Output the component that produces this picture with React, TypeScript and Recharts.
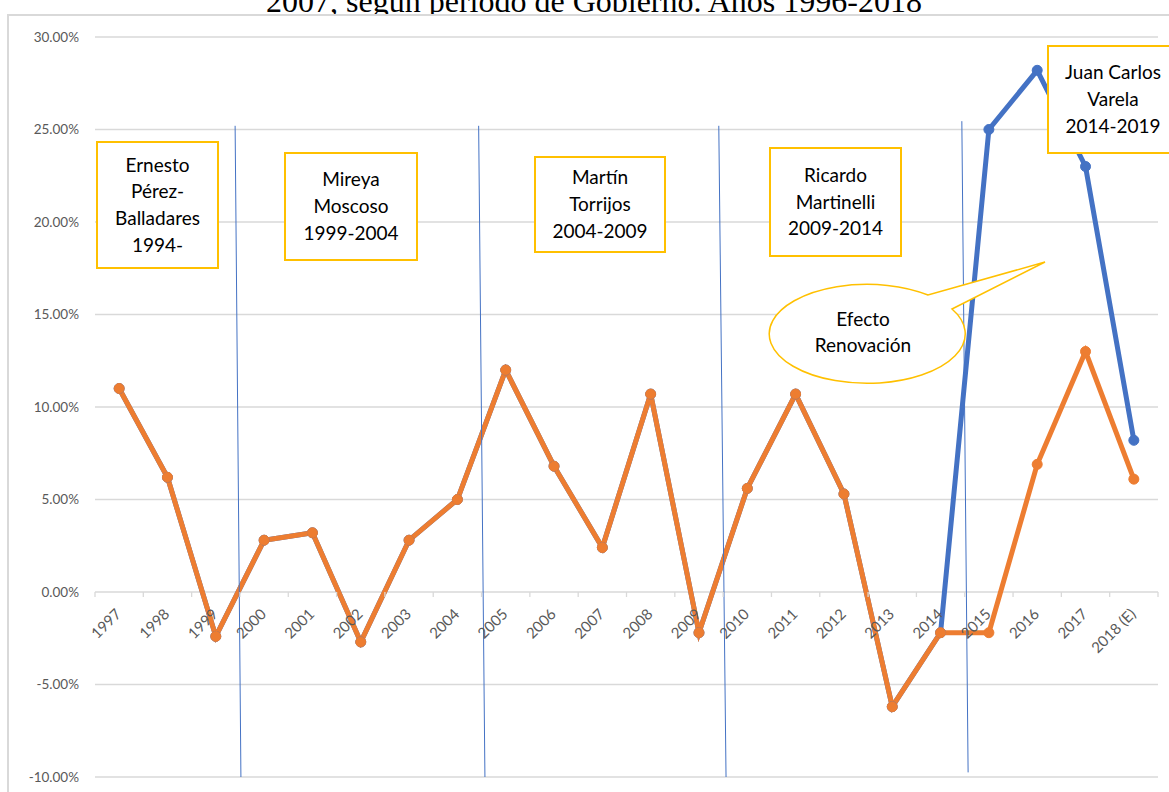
import { CartesianGrid, Line, LineChart, ReferenceDot, ReferenceLine, XAxis, YAxis } from "recharts";

// Tasa de crecimiento (%) por año
const years = [
  "1997", "1998", "1999", "2000", "2001", "2002", "2003", "2004", "2005", "2006", "2007",
  "2008", "2009", "2010", "2011", "2012", "2013", "2014", "2015", "2016", "2017", "2018 (E)",
];
const crecimiento = [
  11.0, 6.2, -2.4, 2.8, 3.2, -2.7, 2.8, 5.0, 12.0, 6.8, 2.4,
  10.7, -2.2, 5.6, 10.7, 5.3, -6.2, -2.2, -2.2, 6.9, 13.0, 6.1,
];
const conRenovacion = [
  11.0, 6.2, -2.4, 2.8, 3.2, -2.7, 2.8, 5.0, 12.0, 6.8, 2.4,
  10.7, -2.2, 5.6, 10.7, 5.3, -6.2, -2.2, 25.0, 28.2, 23.0, 8.2,
];
const yTicks = [-10, -5, 0, 5, 10, 15, 20, 25, 30];

const title = "2007, según período de Gobierno. Años 1996-2018";
const periodLabels = [
  ["Ernesto", "Pérez-", "Balladares", "1994-"],
  ["Mireya", "Moscoso", "1999-2004"],
  ["Martín", "Torrijos", "2004-2009"],
  ["Ricardo", "Martinelli", "2009-2014"],
  ["Juan Carlos", "Varela", "2014-2019"],
];
const calloutLines = ["Efecto", "Renovación"];

// separadores de período (en unidades del gráfico)
const separators = [
  { x1: 2.4, y1: 25.2, x2: 2.52, y2: -10 },
  { x1: 7.44, y1: 25.2, x2: 7.57, y2: -10 },
  { x1: 12.41, y1: 25.2, x2: 12.56, y2: -10 },
  { x1: 17.44, y1: 25.45, x2: 17.57, y2: -9.75 },
];

// cajas de texto (px)
const boxLayout = [
  { left: 96, top: 141, width: 123, height: 128 },
  { left: 284, top: 152, width: 134, height: 109 },
  { left: 534, top: 156, width: 132, height: 97 },
  { left: 769, top: 147, width: 133, height: 110 },
  { left: 1047, top: 45, width: 132, height: 109 },
];

const FONT = "Lato, 'Open Sans', sans-serif";
const GOLD = "#FFC000";
const GRAY = "#595959";

const data = years.map((year, i) => ({
  idx: i,
  year,
  crecimiento: crecimiento[i],
  conRenovacion: conRenovacion[i],
}));

function YearLabel(props: any) {
  const x = props.cx + 3;
  const y = props.cy + 23;
  return (
    <text
      x={x}
      y={y}
      textAnchor="end"
      transform={`rotate(-45, ${x}, ${y})`}
      fill={GRAY}
      fontSize={15}
      fontFamily={FONT}
    >
      {props.value}
    </text>
  );
}

function TickMark(props: any) {
  return <line x1={props.cx} y1={props.cy} x2={props.cx} y2={props.cy + 5} stroke="#d9d9d9" strokeWidth={1.3} />;
}

export default function App() {
  return (
    <div style={{ position: "absolute", left: 0, top: 0, width: 1169, height: 792, overflow: "hidden", background: "#fff" }}>
      <svg width={1169} height={20} style={{ position: "absolute", left: 0, top: 0 }}>
        <text x={594} y={12} textAnchor="middle" fontFamily="'Liberation Serif', 'Times New Roman', serif" fontSize={32}>
          {title}
        </text>
      </svg>
      <div
        style={{
          position: "absolute",
          left: 7,
          top: 14,
          width: 1170,
          height: 790,
          borderLeft: "2px solid #d9d9d9",
          borderTop: "2px solid #d9d9d9",
          background: "#fff",
        }}
      />
      <div style={{ position: "absolute", left: 0, top: 0 }}>
        <LineChart width={1169} height={792} data={data} margin={{ top: 37, right: 11, bottom: 15, left: 0 }}>
          <CartesianGrid vertical={false} stroke="#d9d9d9" strokeWidth={1.3} />
          <XAxis type="number" dataKey="idx" domain={[-0.5, 21.5]} hide />
          <YAxis
            type="number"
            domain={[-10, 30]}
            ticks={yTicks}
            interval={0}
            width={95}
            axisLine={false}
            tickLine={false}
            tickMargin={10}
            tick={{ fill: GRAY, fontSize: 13.5, fontFamily: FONT }}
            tickFormatter={(v: number) => `${v.toFixed(2)}%`}
          />
          {years.concat("end").map((_, i) => (
            <ReferenceDot key={`t${i}`} x={i - 0.5} y={0} r={0} ifOverflow="visible" shape={(p: any) => <TickMark {...p} />} />
          ))}
          {years.map((yr, i) => (
            <ReferenceDot key={yr} x={i} y={0} r={0} ifOverflow="visible" shape={(p: any) => <YearLabel {...p} value={yr} />} />
          ))}
          <Line
            type="linear"
            dataKey="conRenovacion"
            stroke="#4472C4"
            strokeWidth={5}
            dot={{ r: 5, fill: "#4472C4", stroke: "#4472C4", strokeWidth: 1 }}
            activeDot={false}
            isAnimationActive={false}
          />
          <Line
            type="linear"
            dataKey="crecimiento"
            stroke="#ED7D31"
            strokeWidth={5}
            dot={{ r: 5, fill: "#ED7D31", stroke: "#ED7D31", strokeWidth: 1 }}
            activeDot={false}
            isAnimationActive={false}
          />
          {separators.map((s, i) => (
            <ReferenceLine
              key={`s${i}`}
              segment={[{ x: s.x1, y: s.y1 }, { x: s.x2, y: s.y2 }]}
              stroke="#4472C4"
              strokeWidth={1}
              ifOverflow="visible"
            />
          ))}
        </LineChart>
      </div>

      <svg width={1169} height={792} style={{ position: "absolute", left: 0, top: 0, pointerEvents: "none" }}>
        <path
          d="M 952 309 L 1045 262 L 928 295 A 98 49.5 0 1 0 952 309 Z"
          fill="#fff"
          stroke={GOLD}
          strokeWidth={1.5}
        />
        {calloutLines.map((t, i) => (
          <text key={t} x={863} y={326 + i * 26} textAnchor="middle" fontFamily={FONT} fontSize={19} fill="#000">
            {t}
          </text>
        ))}
      </svg>

      {periodLabels.map((lines, i) => {
        const b = boxLayout[i];
        return (
          <div
            key={i}
            style={{
              position: "absolute",
              left: b.left,
              top: b.top,
              width: b.width,
              height: b.height,
              boxSizing: "border-box",
              border: `2px solid ${GOLD}`,
              background: "#fff",
              display: "flex",
              flexDirection: "column",
              justifyContent: "center",
              alignItems: "center",
              fontFamily: FONT,
              fontSize: 19,
              lineHeight: "26.7px",
              color: "#000",
              textAlign: "center",
            }}
          >
            {lines.map((l) => (
              <div key={l}>{l}</div>
            ))}
          </div>
        );
      })}
    </div>
  );
}
